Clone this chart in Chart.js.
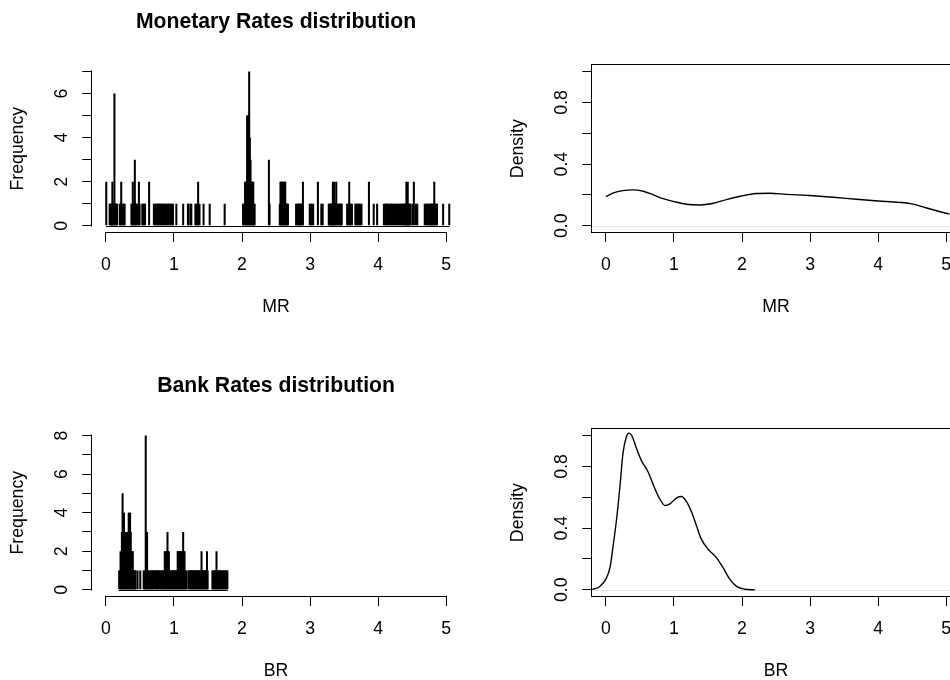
<!DOCTYPE html>
<html>
<head>
<meta charset="utf-8">
<script src="https://cdn.jsdelivr.net/npm/chart.js@4/dist/chart.umd.min.js"></script>
<style>
  html, body { margin: 0; padding: 0; background: #fff; overflow: hidden; width: 950px; height: 680px; }
  body { position: relative; }
  canvas { position: absolute; }
</style>
</head>
<body>
<canvas id="mrHist" width="500" height="364" style="left:0;top:0"></canvas>
<canvas id="mrDens" width="500" height="364" style="left:500px;top:0"></canvas>
<canvas id="brHist" width="500" height="364" style="left:0;top:364px"></canvas>
<canvas id="brDens" width="500" height="364" style="left:500px;top:364px"></canvas>
<script>
// ---- tick values ----
const rateTicks = [0, 1, 2, 3, 4, 5];
const mrFreqTicks = [0, 1, 2, 3, 4, 5, 6, 7];
const brFreqTicks = [0, 1, 2, 3, 4, 5, 6, 7, 8];
const densityTicks = [0, 0.2, 0.4, 0.6, 0.8, 1.0];

// ---- histogram bins: width 0.01, lower edge given in hundredths ----
const binWidth = 0.01;

// Monetary Rates (MR): non-empty bins and their counts
const mrBinLow = [
  0,
  5, 6, 7, 8, 9, 10, 11, 12, 13, 14, 15, 16,
  20, 21, 22, 23, 25, 26, 27,
  37, 38, 39, 40, 41, 42, 43, 44, 45, 47, 48, 49,
  53, 54, 56, 57,
  63,
  70, 72, 73, 75, 76, 77, 79, 80, 82, 83, 84, 86, 87, 89, 91, 92, 94, 95, 97, 98,
  103, 113, 120, 121, 124, 125,
  131, 132, 134, 135, 137, 143, 152, 174,
  201, 202, 203, 204, 205, 206, 207, 208, 209, 210, 211, 212, 213, 214, 215, 216, 217, 218,
  239, 240,
  255, 256, 257, 258, 259, 260, 261, 262, 263, 264, 265, 266, 267,
  279, 280, 282, 283, 284, 285, 286, 287, 289,
  299, 301, 302, 304, 311, 316, 318,
  327, 328, 329, 330, 331, 332, 333, 334, 335, 336, 337, 338, 339, 340, 342, 343, 344, 345, 346,
  354, 355, 357, 358, 359, 361, 366, 367, 369, 370, 372, 373, 375,
  386, 393, 398,
  408, 410, 411, 413, 414, 416, 418, 419, 420, 422, 424, 425, 426, 428, 430, 431, 433, 434, 436, 437, 438, 439, 440,
  441, 442, 443, 444, 445, 446, 447,
  450, 452, 455, 457,
  468, 470, 471, 473, 474, 476, 477, 478, 479, 480, 481, 482, 483, 484, 486,
  495, 504
];
const mrFreq = [
  2,
  1, 1, 1, 1, 2, 1, 1, 6, 1, 1, 1, 1,
  1, 1, 2, 1, 1, 1, 1,
  1, 1, 2, 1, 1, 3, 1, 1, 1, 1, 2, 1,
  1, 1, 1, 1,
  2,
  1, 1, 1, 1, 1, 1, 1, 1, 1, 1, 1, 1, 1, 1, 1, 1, 1, 1, 1, 1,
  1, 1, 1, 1, 1, 1,
  1, 1, 1, 2, 1, 1, 1, 1,
  1, 1, 1, 2, 2, 2, 5, 5, 5, 7, 4, 3, 2, 2, 2, 2, 1, 1,
  3, 1,
  1, 2, 2, 2, 2, 1, 2, 2, 2, 1, 1, 1, 1,
  1, 1, 1, 1, 1, 1, 1, 1, 2,
  1, 1, 1, 1, 2, 1, 1,
  1, 1, 1, 1, 1, 1, 2, 1, 2, 1, 1, 2, 1, 1, 1, 1, 1, 1, 1,
  1, 1, 2, 1, 1, 1, 1, 1, 1, 1, 1, 1, 1,
  2, 1, 1,
  1, 1, 1, 1, 1, 1, 1, 1, 1, 1, 1, 1, 1, 1, 1, 1, 1, 1, 1, 1, 1, 1, 1,
  2, 1, 2, 1, 1, 1, 1,
  1, 2, 1, 1,
  1, 1, 1, 1, 1, 1, 1, 1, 1, 1, 1, 2, 1, 1, 1,
  1, 1
];

// Bank Rates (BR): non-empty bins and their counts
const brBinLow = [
  19, 20, 21, 22, 23, 24, 25, 26, 27, 28, 29, 30, 31, 32, 33, 34, 35, 36, 37, 38, 39, 40, 41, 42, 43,
  46, 50,
  55, 56, 57, 58, 59, 60, 61, 62, 64, 65, 66, 67, 68, 69, 71, 72, 73, 74, 75, 76, 77, 78, 80, 81, 82, 83, 84, 85,
  86, 87, 88, 89, 90, 91, 92, 93, 94, 95, 96, 97, 98, 99, 100, 101, 102, 103, 104,
  105, 106, 107, 108, 109, 110, 111, 112, 113, 114, 115, 116, 117, 118,
  121, 122, 123, 124, 125, 126, 127, 128, 129, 130, 131, 132, 133, 134, 135, 136, 137, 138, 139,
  140, 141, 142, 143, 144, 145, 146, 147, 148, 149,
  156, 157, 158, 159, 160, 161, 162, 163, 164, 165, 166, 167, 168, 169, 171, 172, 173, 174, 175, 176, 177, 178
];
const brFreq = [
  1, 1, 2, 2, 3, 5, 4, 4, 3, 3, 3, 3, 2, 3, 4, 4, 4, 3, 2, 2, 2, 1, 1, 1, 1,
  1, 1,
  1, 1, 1, 8, 3, 3, 1, 1, 1, 1, 1, 1, 1, 1, 1, 1, 1, 1, 1, 1, 1, 1, 1, 1, 1, 1, 1, 1,
  2, 2, 2, 2, 3, 2, 2, 1, 1, 1, 1, 1, 1, 1, 1, 1, 1, 1, 1,
  2, 2, 2, 2, 2, 2, 2, 2, 3, 2, 2, 1, 1, 1,
  1, 1, 1, 1, 1, 1, 1, 1, 1, 1, 1, 1, 1, 1, 1, 1, 1, 1, 1,
  2, 1, 1, 1, 1, 1, 1, 1, 2, 1,
  1, 1, 1, 1, 1, 1, 2, 1, 1, 1, 1, 1, 1, 1, 1, 1, 1, 1, 1, 1, 1, 1
];

// ---- kernel density estimates ----
const mrDensX = [0, 0.11, 0.25, 0.40, 0.55, 0.69, 0.84, 1.00, 1.18, 1.38, 1.58, 1.77, 1.99, 2.21, 2.41, 2.65, 2.99, 3.34, 3.68, 4.00, 4.31, 4.51, 4.70, 4.90, 5.05];
const mrDensY = [0.189, 0.213, 0.228, 0.233, 0.224, 0.202, 0.176, 0.157, 0.140, 0.135, 0.146, 0.170, 0.193, 0.209, 0.211, 0.204, 0.196, 0.185, 0.172, 0.161, 0.152, 0.141, 0.117, 0.093, 0.076];

const brDensX = [-0.25, -0.2, -0.09, 0.0, 0.06, 0.11, 0.16, 0.21, 0.25, 0.30, 0.34, 0.38, 0.45, 0.52, 0.62, 0.72, 0.79, 0.87, 0.94, 1.04, 1.11, 1.18, 1.26, 1.33, 1.40, 1.50, 1.62, 1.72, 1.82, 1.92, 2.04, 2.19];
const brDensY = [0.0, 0.003, 0.022, 0.069, 0.145, 0.297, 0.470, 0.687, 0.882, 0.990, 1.015, 1.000, 0.915, 0.839, 0.763, 0.655, 0.590, 0.546, 0.557, 0.596, 0.605, 0.575, 0.503, 0.416, 0.330, 0.264, 0.210, 0.145, 0.069, 0.022, 0.004, 0.0];

// ---- styling ----
const FONT = "'Liberation Sans', Arial, Helvetica, sans-serif";
const LABEL_SIZE = 17.7;
Chart.defaults.color = '#000';
Chart.defaults.font.family = FONT;

// Axis lines between the end ticks, a plot frame, and zero lines
const baseAxes = {
  id: 'baseAxes',
  beforeDatasetsDraw(chart, args, opts) {
    const {ctx, chartArea: a, scales: {y}} = chart;
    if (opts.zeroLine) {
      // faint reference line at density 0
      const yz = Math.round(y.getPixelForValue(0)) + 0.5;
      ctx.save();
      ctx.strokeStyle = '#e4e4e4';
      ctx.lineWidth = 1;
      ctx.beginPath();
      ctx.moveTo(a.left, yz);
      ctx.lineTo(a.right, yz);
      ctx.stroke();
      ctx.restore();
    }
  },
  afterDatasetsDraw(chart, args, opts) {
    const {ctx, chartArea: a, scales: {x, y}} = chart;
    ctx.save();
    ctx.strokeStyle = '#000';
    ctx.lineWidth = 1;
    const L = Math.round(a.left), R = Math.round(a.right), T = Math.round(a.top), B = Math.round(a.bottom);
    if (opts.baseline) {
      // outline of the empty bins along the zero count
      const yz = Math.round(y.getPixelForValue(0)) + 0.5;
      ctx.beginPath();
      ctx.moveTo(x.getPixelForValue(opts.baseline[0]), yz);
      ctx.lineTo(x.getPixelForValue(opts.baseline[1]), yz);
      ctx.stroke();
    }
    if (opts.frame) {
      ctx.strokeRect(L - 0.5, T - 0.5, R - L + 1, B - T + 1);
    } else {
      const xt = x.ticks, yt = y.ticks;
      ctx.beginPath();
      ctx.moveTo(Math.round(x.getPixelForValue(xt[0].value)) - 0.5, B + 0.5);
      ctx.lineTo(Math.round(x.getPixelForValue(xt[xt.length - 1].value)) + 0.5, B + 0.5);
      ctx.moveTo(L - 0.5, Math.round(y.getPixelForValue(yt[0].value)) + 0.5);
      ctx.lineTo(L - 0.5, Math.round(y.getPixelForValue(yt[yt.length - 1].value)) - 0.5);
      ctx.stroke();
    }
    ctx.restore();
  }
};

const tickGrid = {
  display: true, drawOnChartArea: false, drawTicks: true,
  tickLength: 10, color: '#000', lineWidth: 1, offset: false
};

function xScale(title) {
  return {
    type: 'linear', min: -0.2, max: 5.2, offset: false,
    afterBuildTicks: s => { s.ticks = rateTicks.map(v => ({value: v})); },
    afterFit: s => { s.height = 132; },
    grid: tickGrid,
    border: {display: false},
    ticks: {
      color: '#000', font: {family: FONT, size: LABEL_SIZE}, padding: 12.4,
      maxRotation: 0, autoSkip: false, callback: v => String(v)
    },
    title: {
      display: true, text: title, color: '#000',
      font: {family: FONT, size: LABEL_SIZE}, padding: {top: 0, bottom: 45.9}
    }
  };
}

function yScale(title, min, max, ticks, pad, fmt) {
  return {
    type: 'linear', min, max,
    afterBuildTicks: s => { s.ticks = ticks.map(v => ({value: v})); },
    afterFit: s => { s.width = 92.3; },
    grid: tickGrid,
    border: {display: false},
    ticks: {
      color: '#000', font: {family: FONT, size: LABEL_SIZE}, padding: pad,
      crossAlign: 'center', minRotation: 90, maxRotation: 90, autoSkip: false,
      callback: fmt
    },
    title: {
      display: true, text: title, color: '#000',
      font: {family: FONT, size: LABEL_SIZE}, padding: {top: 7.7, bottom: 0}
    }
  };
}

function histChart(id, title, axisName, binLow, freq, yTicks) {
  const points = binLow.map((k, i) => ({x: (k + 0.5) * binWidth, y: freq[i]}));
  const span = [binLow[0] * binWidth, (binLow[binLow.length - 1] + 1) * binWidth];
  const yMax = yTicks[yTicks.length - 1];
  return new Chart(document.getElementById(id), {
    type: 'bar',
    data: {
      datasets: [{
        data: points, backgroundColor: '#000', borderWidth: 0,
        barPercentage: 3, categoryPercentage: 1
      }]
    },
    options: {
      responsive: false, animation: false, devicePixelRatio: 1,
      layout: {padding: {left: 0, right: 40.2, top: 0, bottom: 0}},
      plugins: {
        legend: {display: false},
        tooltip: {enabled: false},
        title: {
          display: true, text: title, fullSize: false, color: '#000',
          font: {family: FONT, size: 21.2, weight: 'bold'},
          padding: {top: 9.8, bottom: 30.06}
        },
        baseAxes: {frame: false, baseline: span}
      },
      scales: {
        x: xScale(axisName),
        y: yScale('Frequency', -0.04 * yMax, 1.04 * yMax, yTicks, 15.5,
                  v => (v % 2 === 0 ? String(v) : ''))
      }
    },
    plugins: [baseAxes]
  });
}

function densityChart(id, axisName, xs, ys) {
  const points = xs.map((x, i) => ({x, y: ys[i]}));
  return new Chart(document.getElementById(id), {
    type: 'line',
    data: {
      datasets: [{
        data: points, borderColor: '#000', borderWidth: 1.4,
        pointRadius: 0, fill: false, cubicInterpolationMode: 'monotone'
      }]
    },
    options: {
      responsive: false, animation: false, devicePixelRatio: 1,
      layout: {padding: {left: 0, right: 40.2, top: 65.3, bottom: 0}},
      plugins: {
        legend: {display: false},
        tooltip: {enabled: false},
        title: {display: false},
        baseAxes: {frame: true, zeroLine: true}
      },
      scales: {
        x: xScale(axisName),
        y: yScale('Density', -0.04, 1.04, densityTicks, 8.1,
                  (v, i) => (i % 2 === 0 ? v.toFixed(1) : ''))
      }
    },
    plugins: [baseAxes]
  });
}

histChart('mrHist', 'Monetary Rates distribution', 'MR', mrBinLow, mrFreq, mrFreqTicks);
densityChart('mrDens', 'MR', mrDensX, mrDensY);
histChart('brHist', 'Bank Rates distribution', 'BR', brBinLow, brFreq, brFreqTicks);
densityChart('brDens', 'BR', brDensX, brDensY);
</script>
</body>
</html>
